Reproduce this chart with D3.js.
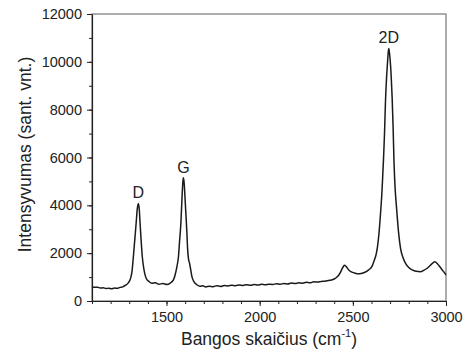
<!DOCTYPE html>
<html>
<head>
<meta charset="utf-8">
<script src="https://cdn.jsdelivr.net/npm/d3@7"></script>
<style>
  body { margin: 0; background: #fff; }
  text { font-family: "Liberation Sans", Arial, sans-serif; fill: #222; }
  .axis path, .axis line { stroke: #222; }
</style>
</head>
<body>
<div id="chart"></div>
<script>
var margin = {top: 14, right: 22, bottom: 57, left: 92},
    width = 468 - margin.left - margin.right,
    height = 358 - margin.top - margin.bottom;

// Raman spectrum
var wavenumber = [
  1100, 1115, 1130, 1145, 1160, 1175, 1190, 1205, 1220, 1235, 1250, 1265, 1280, 1295, 1305, 1315, 1322, 1330, 1337, 1343,
  1349, 1354, 1358, 1364, 1370, 1378, 1390, 1405, 1421, 1440, 1460, 1480, 1502, 1520, 1537, 1548, 1556, 1564, 1570, 1577,
  1583, 1588, 1591, 1595, 1600, 1605, 1609, 1613, 1618, 1623, 1630, 1636, 1648, 1663, 1680, 1695, 1710, 1730, 1750, 1770,
  1790, 1810, 1830, 1850, 1870, 1890, 1910, 1930, 1950, 1970, 1990, 2010, 2030, 2050, 2070, 2090, 2110, 2130, 2150, 2170,
  2190, 2210, 2230, 2250, 2270, 2290, 2310, 2330, 2350, 2370, 2385, 2400, 2415, 2430, 2445, 2455, 2465, 2478, 2492, 2510,
  2528, 2545, 2565, 2585, 2604, 2615, 2625, 2632, 2640, 2648, 2655, 2659, 2665, 2670, 2675, 2680, 2686, 2690, 2693, 2697,
  2702, 2707, 2711, 2716, 2721, 2727, 2733, 2738, 2745, 2756, 2770, 2783, 2800, 2819, 2840, 2863, 2880, 2899, 2920, 2940,
  2955, 2970, 2985, 3000
];
var intensity = [
  590, 570, 575, 540, 555, 520, 535, 510, 540, 530, 570, 590, 660, 760, 900, 1250, 1850, 2600, 3260, 3850,
  4080, 3800, 3250, 2500, 1850, 1350, 960, 820, 740, 760, 700, 730, 690, 750, 880, 1150, 1450, 1850, 2500, 3250,
  4300, 5000, 5150, 4900, 4200, 3500, 2900, 2200, 1750, 1600, 1300, 1030, 800, 680, 620, 640, 590, 620, 600, 640,
  610, 650, 630, 660, 640, 670, 650, 680, 655, 690, 665, 700, 680, 705, 690, 720, 700, 735, 710, 750,
  730, 760, 745, 780, 760, 800, 790, 820, 830, 860, 880, 920, 1000, 1150, 1380, 1500, 1430, 1300, 1220, 1170,
  1140, 1150, 1200, 1300, 1470, 1700, 1950, 2250, 2800, 3600, 4400, 5000, 6000, 7000, 8300, 9200, 9950, 10400, 10560, 10350,
  9900, 9200, 8500, 7300, 5800, 4700, 4050, 3550, 2900, 2200, 1800, 1570, 1400, 1300, 1240, 1220, 1280, 1370, 1520, 1640,
  1550, 1400, 1250, 1090
];
var peakNames = ['D', 'G', '2D'];
var peakPos = [1349, 1591, 2693];
var peakVal = [4080, 5150, 10560];

var xTicks = [1500, 2000, 2500, 3000];
var yTicks = [0, 2000, 4000, 6000, 8000, 10000, 12000];

var lineData = wavenumber.map(function(d, i) { return {x: d, y: intensity[i]}; });

var xScale = d3.scaleLinear()
    .domain([1100, 3000])
    .range([0, width]);

var yScale = d3.scaleLinear()
    .domain([0, 12000])
    .range([height, 0]);

var svg = d3.select('#chart')
    .append('svg')
    .attr('width', width + margin.left + margin.right)
    .attr('height', height + margin.top + margin.bottom);

var g = svg.append('g')
    .attr('transform', 'translate(' + margin.left + ',' + margin.top + ')');

// frame
g.append('rect')
    .attr('width', width)
    .attr('height', height)
    .attr('fill', 'none')
    .attr('stroke', '#777')
    .attr('stroke-width', 1.2);

// minor ticks
g.append('g')
    .attr('class', 'axis')
    .attr('transform', 'translate(0,' + height + ')')
    .call(d3.axisBottom(xScale).tickValues(d3.range(1100, 3001, 100)).tickSize(3).tickSizeOuter(0).tickFormat(''))
    .select('.domain').remove();

g.append('g')
    .attr('class', 'axis')
    .call(d3.axisLeft(yScale).tickValues(d3.range(0, 12001, 1000)).tickSize(3).tickSizeOuter(0).tickFormat(''))
    .select('.domain').remove();

var xAxis = g.append('g')
    .attr('class', 'axis')
    .attr('transform', 'translate(0,' + height + ')')
    .call(d3.axisBottom(xScale).tickValues(xTicks).tickSize(5).tickSizeOuter(0).tickPadding(6).tickFormat(d3.format('d')));

var yAxis = g.append('g')
    .attr('class', 'axis')
    .call(d3.axisLeft(yScale).tickValues(yTicks).tickSize(5).tickSizeOuter(0).tickPadding(5).tickFormat(d3.format('d')));

g.selectAll('.axis text')
    .style('font-size', '14.5px')
    .style('fill', '#222');
g.selectAll('.axis .domain').attr('stroke-width', 1.2);

// axis titles
svg.append('text')
    .attr('x', margin.left + width / 2)
    .attr('y', 345)
    .style('text-anchor', 'middle')
    .style('font-size', '17.5px')
    .html('Bangos skaičius (cm<tspan dy="-8" font-size="11px">-1</tspan><tspan dy="8">)</tspan>');

svg.append('text')
    .attr('transform', 'translate(31,' + (margin.top + height / 2 - 3) + ') rotate(-90)')
    .style('text-anchor', 'middle')
    .style('font-size', '17.5px')
    .text('Intensyvumas (sant. vnt.)');

var lineFunction = d3.line()
    .curve(d3.curveMonotoneX)
    .x(function(d) { return xScale(d.x); })
    .y(function(d) { return yScale(d.y); });

g.append('path')
    .attr('d', lineFunction(lineData))
    .attr('fill', 'none')
    .attr('stroke', '#1a1a1a')
    .attr('stroke-width', 1.5);

g.selectAll('.peak')
    .data(peakNames)
    .enter().append('text')
    .attr('class', 'peak')
    .attr('x', function(d, i) { return xScale(peakPos[i]); })
    .attr('y', function(d, i) { return yScale(peakVal[i]) - 5; })
    .style('text-anchor', 'middle')
    .style('font-size', '16px')
    .text(function(d) { return d; });
</script>
</body>
</html>
